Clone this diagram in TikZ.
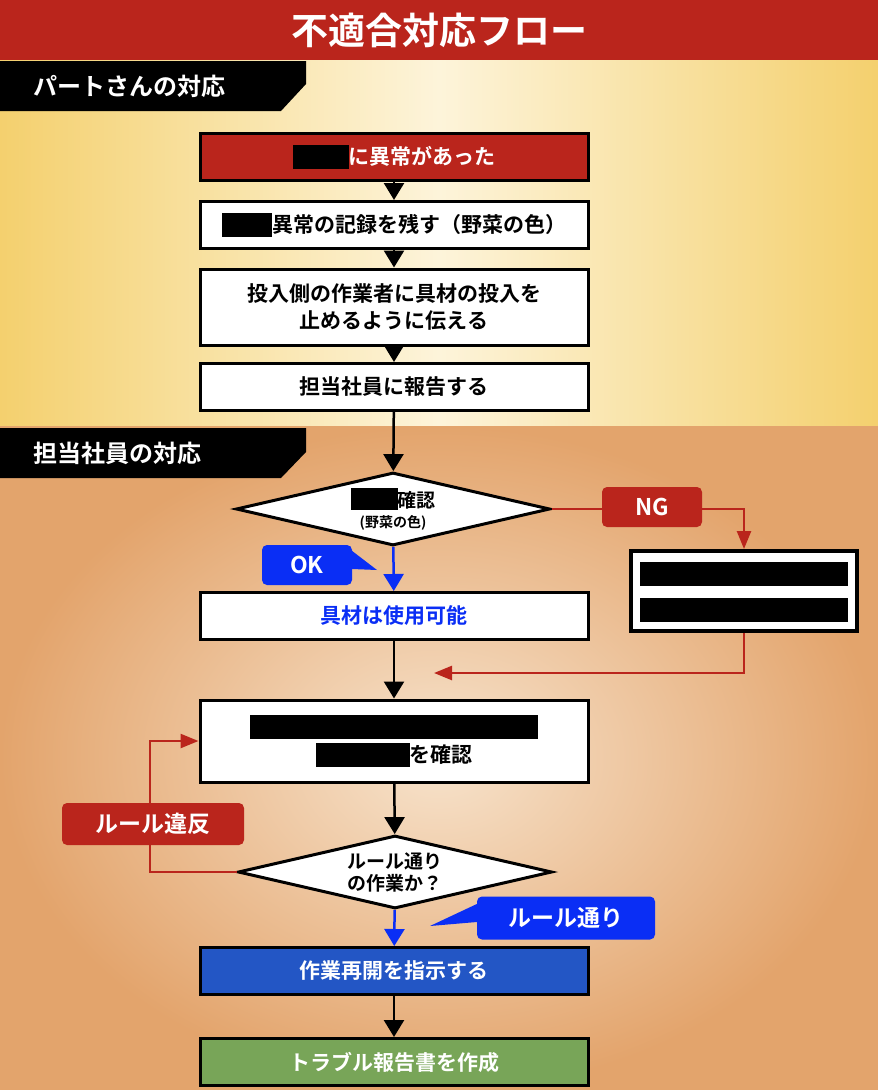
\documentclass[tikz,border=0pt]{standalone}
\usepackage{fontspec}
\setmainfont{Noto Sans CJK JP}[BoldFont={* Bold}]
\usetikzlibrary{arrows.meta,shapes.geometric,positioning}
\definecolor{fred}{HTML}{BA251C}
\definecolor{fblue}{HTML}{0A2EF5}
\definecolor{fbox}{HTML}{2356C5}
\definecolor{fgreen}{HTML}{78A558}
\definecolor{fyel}{HTML}{F4D06E}
\definecolor{fyelc}{HTML}{FDF4DA}
\definecolor{forg}{HTML}{E3A46C}
\definecolor{forgc}{HTML}{F7E3CC}
\tikzset{
  flow/.style={draw=black, line width=3pt, fill=white, minimum width=388pt, minimum height=47pt,
    align=center, font=\fontsize{21}{27}\selectfont\bfseries},
  tag/.style={rounded corners=5pt, text=white, font=\fontsize{23}{26}\selectfont\bfseries, inner sep=0pt},
  ask/.style={diamond, draw=black, line width=3pt, fill=white, aspect=4.3, inner sep=0pt,
    minimum width=314pt, minimum height=73pt, align=center, font=\fontsize{19}{22}\selectfont\bfseries},
  go/.style={line width=2.5pt, -{Triangle[width=20pt,length=17pt]}},
  ng/.style={draw=fred, line width=2.5pt, -{Triangle[width=14pt,length=18pt]}},
  tab/.style={fill=black},
}
\newcommand{\blot}[1]{\textcolor{black}{\rule[-5pt]{#1}{24pt}}}
\begin{document}
\begin{tikzpicture}[x=1pt,y=-1pt]
\useasboundingbox (0,0) rectangle (878,1090);
% backgrounds
\shade[left color=fyel, right color=fyel, middle color=fyelc] (0,60) rectangle (878,426);
\shade[inner color=forgc, outer color=forg] (0,426) rectangle (878,1090);
\fill[fred] (0,0) rectangle (878,60);
\node[text=white, font=\fontsize{37}{40}\selectfont\bfseries] (title) at (439,30) {不適合対応フロー};
% section tabs
\fill[tab] (0,61) -- (306,61) -- (306,84) -- (281,111) -- (0,111) -- cycle;
\node[text=white, font=\fontsize{24}{26}\selectfont\bfseries, anchor=west] (part) at (30,86) {パートさんの対応};
\fill[tab] (0,428) -- (306,428) -- (306,452) -- (281,478) -- (0,478) -- cycle;
\node[text=white, font=\fontsize{24}{26}\selectfont\bfseries, anchor=west] (staff) at (30,453) {担当社員の対応};

% part-timer steps
\node[flow, fill=fred, text=white] (s1) at (394,157) {\blot{56pt}に異常があった};
\node[flow] (s2) at (394,225) {\blot{50pt}異常の記録を残す（野菜の色）};
\node[flow, minimum height=76pt] (s3) at (394,307) {投入側の作業者に具材の投入を\\止めるように伝える};
\node[flow] (s4) at (394,387) {担当社員に報告する};
\draw[go] (s1) -- (s2);
\draw[go] (s2) -- (s3);
\draw[go] (s3) -- (s4);

% staff steps
\node[ask] (q1) at (393,509) {\rule[-3pt]{47pt}{22pt}確認\\[-2pt]{\fontsize{14}{16}\selectfont (野菜の色)}};
\node[flow, text=fblue] (s5) at (394,616) {具材は使用可能};
\node[draw=black, line width=4pt, fill=white, minimum width=226pt, minimum height=80pt] (bad) at (744,591) {};
\fill (640,562) rectangle (848,586);
\fill (640,598) rectangle (848,622);
\node[flow, minimum height=82pt] (s6) at (394,741) {\rule[-4pt]{288pt}{24pt}\\\blot{94pt}を確認};
\node[ask] (q2) at (395,872) {ルール通り\\の作業か？};
\node[flow, fill=fbox, text=white] (s7) at (394,971) {作業再開を指示する};
\node[flow, fill=fgreen, text=white] (s8) at (394,1062) {トラブル報告書を作成};

\draw[go] (s4) -- (q1);
\draw[go, fblue] (q1) -- (s5);
\draw[go] (s5) -- (s6);
\draw[go] (s6) -- (q2);
\draw[go, fblue] (q2) -- (s7);
\draw[go] (s7) -- (s8);

% NG branch
\draw[ng] (q1.east) -| (bad.north);
\draw[ng] (bad.south) |- ([xshift=40pt,yshift=-32pt]s5.south);
\node[tag, fill=fred, minimum width=100pt, minimum height=40pt] (ngt) at (652,507) {NG};

% rule violation loop
\draw[ng] (q2.west) -- (150,872) |- (s6.west);
\node[tag, fill=fred, minimum width=182pt, minimum height=42pt] (viol) at (153,824) {ルール違反};

% OK / rule-followed callouts
\node[tag, fill=fblue, minimum width=90pt, minimum height=40pt] (okt) at (307,565) {OK};
\coordinate (okp) at (377,570);
\fill[fblue] ([yshift=-4pt]okt.east) -- (okp) -- ([yshift=14pt]okt.east) -- cycle;
\node[tag, fill=fblue, minimum width=178pt, minimum height=43pt] (rulet) at (566,918) {ルール通り};
\coordinate (rulep) at (430,926);
\fill[fblue] ([yshift=-4pt]rulet.west) -- (rulep) -- ([yshift=14pt]rulet.west) -- cycle;
\end{tikzpicture}
\end{document}
